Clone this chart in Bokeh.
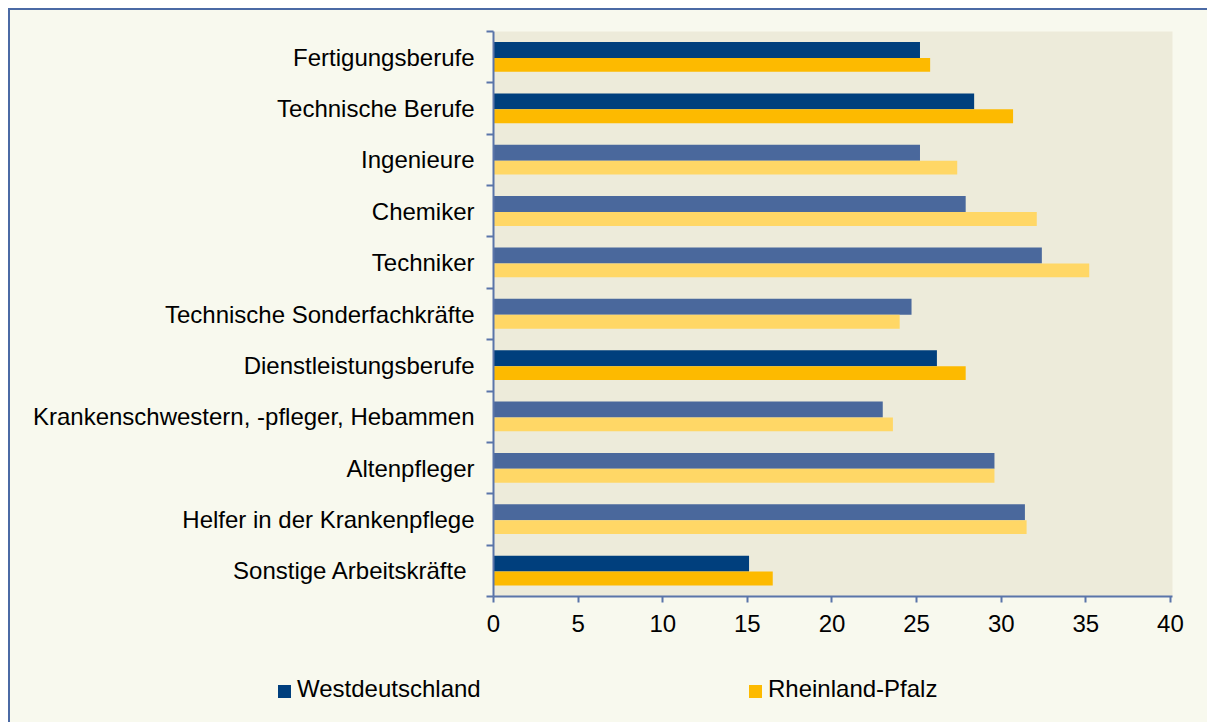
from bokeh.plotting import figure
from bokeh.layouts import column
from bokeh.models import Range1d, FixedTicker, ColumnDataSource, Div
from bokeh.embed import file_html
from bokeh.resources import INLINE

# ---- data ----
categories = [
    "Fertigungsberufe",
    "Technische Berufe",
    "Ingenieure",
    "Chemiker",
    "Techniker",
    "Technische Sonderfachkräfte",
    "Dienstleistungsberufe",
    "Krankenschwestern, -pfleger, Hebammen",
    "Altenpfleger",
    "Helfer in der Krankenpflege",
    "Sonstige Arbeitskräfte ",
]
westdeutschland = [25.2, 28.4, 25.2, 27.9, 32.4, 24.7, 26.2, 23.0, 29.6, 31.4, 15.1]
rheinland_pfalz = [25.8, 30.7, 27.4, 32.1, 35.2, 24.0, 27.9, 23.6, 29.6, 31.5, 16.5]
is_group = [True, True, False, False, False, False, True, False, False, False, True]
x_ticks = [0, 5, 10, 15, 20, 25, 30, 35, 40]
series_names = ["Westdeutschland", "Rheinland-Pfalz"]

# ---- style ----
FONT = "Liberation Sans"
FS = "24px"
DARK_BLUE, LIGHT_BLUE = "#003F7D", "#4A689C"
DARK_YEL, LIGHT_YEL = "#FDBA00", "#FFD766"
PLOT_BG, OUTER_BG = "#EDEBDA", "#F8F9EE"
AXIS_C = "#5A75A9"
BORDER_C = "#4B6AA5"
W = 1197

idx = list(range(len(categories)))
src_w = ColumnDataSource(dict(
    y=[i - 0.14 for i in idx], right=westdeutschland,
    color=[DARK_BLUE if g else LIGHT_BLUE for g in is_group]))
src_r = ColumnDataSource(dict(
    y=[i + 0.15 for i in idx], right=rheinland_pfalz,
    color=[DARK_YEL if g else LIGHT_YEL for g in is_group]))

p = figure(width=W, height=644, output_backend="svg", toolbar_location=None,
           x_range=Range1d(0, 40.12), y_range=Range1d(len(categories) - 0.5, -0.5),
           min_border_left=483, min_border_right=35, min_border_top=21, min_border_bottom=58)
p.margin = 0
p.background_fill_color = PLOT_BG
p.border_fill_color = OUTER_BG
p.outline_line_color = None
p.grid.visible = False

r_w = p.hbar(y="y", right="right", left=0, height=0.31, source=src_w,
             fill_color="color", line_color=None)
r_r = p.hbar(y="y", right="right", left=0, height=0.27, source=src_r,
             fill_color="color", line_color=None)

# y axis
ya = p.yaxis[0]
ya.ticker = FixedTicker(ticks=idx, minor_ticks=[i - 0.5 for i in range(len(categories) + 1)])
ya.major_label_overrides = {i: c for i, c in zip(idx, categories)}
ya.major_tick_in = 0
ya.major_tick_out = 0
ya.minor_tick_in = 0
ya.minor_tick_out = 7
ya.minor_tick_line_color = AXIS_C
ya.minor_tick_line_width = 2
ya.axis_line_color = AXIS_C
ya.axis_line_width = 2
ya.major_label_standoff = 12
ya.major_label_text_font = FONT
ya.major_label_text_font_size = FS
ya.major_label_text_color = "#000000"

# x axis
xa = p.xaxis[0]
xa.ticker = FixedTicker(ticks=x_ticks, minor_ticks=[])
xa.major_tick_in = 0
xa.major_tick_out = 6
xa.major_tick_line_color = AXIS_C
xa.major_tick_line_width = 2
xa.axis_line_color = AXIS_C
xa.axis_line_width = 2
xa.major_label_standoff = 12
xa.major_label_text_font = FONT
xa.major_label_text_font_size = FS
xa.major_label_text_color = "#000000"

# legend strip (series names with their colour keys)
legend_colors = [DARK_BLUE, DARK_YEL]
legend_x = [268, 739]
items_html = ""
for name, col, lx in zip(series_names, legend_colors, legend_x):
    items_html += (
        f'<div style="position:absolute;left:{lx}px;top:31px;width:13px;height:13px;'
        f'background:{col};"></div>'
        f'<div style="position:absolute;left:{lx + 19}px;top:23px;line-height:24px;'
        f'font-family:\'{FONT}\';font-size:{FS};color:#000000;white-space:nowrap;">{name}</div>'
    )
legend_div = Div(
    text=f'<div style="position:relative;width:{W}px;height:68px;">{items_html}</div>',
    width=W, height=68, margin=0,
    styles={"background-color": OUTER_BG})

layout = column(p, legend_div, spacing=0)
layout.margin = (8, 0, 0, 8)
layout.styles = {"border-left": f"2px solid {BORDER_C}", "border-top": f"2px solid {BORDER_C}",
                 "box-sizing": "content-box", "background-color": OUTER_BG}

open("out.html", "w").write(file_html(layout, INLINE))
